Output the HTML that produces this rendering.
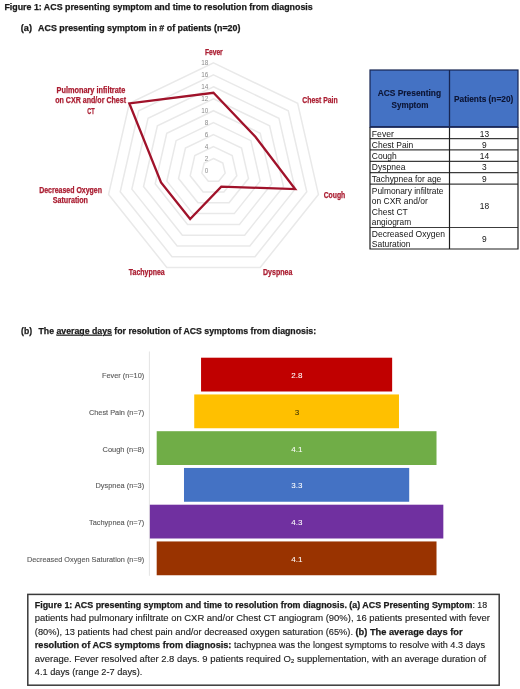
<!DOCTYPE html>
<html><head><meta charset="utf-8"><style>
html,body{margin:0;padding:0;background:#fff;}
body{width:520px;height:689px;overflow:hidden;}
svg{display:block;font-family:"Liberation Sans",sans-serif;filter:blur(0.3px);}
</style></head><body>
<svg width="520" height="689" viewBox="0 0 520 689">
<rect width="520" height="689" fill="#fff"/>
<text x="4.4" y="9.8" font-size="8.7" font-weight="bold" fill="#1a1a1a" stroke="#1a1a1a" stroke-width="0.25" textLength="308.3" lengthAdjust="spacingAndGlyphs">Figure 1: ACS presenting symptom and time to resolution from diagnosis</text>
<text x="20.8" y="31.3" font-size="8.5" font-weight="bold" fill="#1a1a1a" stroke="#1a1a1a" stroke-width="0.25" textLength="11.2" lengthAdjust="spacingAndGlyphs">(a)</text>
<text x="38.1" y="31.3" font-size="8.5" font-weight="bold" fill="#1a1a1a" stroke="#1a1a1a" stroke-width="0.25" textLength="202.3" lengthAdjust="spacingAndGlyphs">ACS presenting symptom in # of patients (n=20)</text>
<g fill="none" stroke="#e9e9e9" stroke-width="1.5"><polygon points="213.50,158.54 222.85,163.04 225.16,173.16 218.69,181.28 208.31,181.28 201.84,173.16 204.15,163.04"/><polygon points="213.50,146.58 232.20,155.59 236.82,175.82 223.88,192.05 203.12,192.05 190.18,175.82 194.80,155.59"/><polygon points="213.50,134.62 241.55,148.13 248.48,178.48 229.07,202.83 197.93,202.83 178.52,178.48 185.45,148.13"/><polygon points="213.50,122.66 250.90,140.67 260.14,181.15 234.26,213.60 192.74,213.60 166.86,181.15 176.10,140.67"/><polygon points="213.50,110.70 260.25,133.22 271.80,183.81 239.45,224.38 187.55,224.38 155.20,183.81 166.75,133.22"/><polygon points="213.50,98.74 269.60,125.76 283.46,186.47 244.64,235.15 182.36,235.15 143.54,186.47 157.40,125.76"/><polygon points="213.50,86.78 278.95,118.30 295.12,189.13 249.82,245.93 177.18,245.93 131.88,189.13 148.05,118.30"/><polygon points="213.50,74.82 288.31,110.84 306.78,191.79 255.01,256.70 171.99,256.70 120.22,191.79 138.69,110.84"/><polygon points="213.50,62.86 297.66,103.39 318.44,194.45 260.20,267.48 166.80,267.48 108.56,194.45 129.34,103.39"/></g>
<polygon points="213.50,92.76 255.58,136.94 295.12,189.13 221.28,186.66 190.15,218.99 161.03,182.48 129.34,103.39" fill="none" stroke="#a0122a" stroke-width="2.3" stroke-linejoin="miter"/>
<text x="208.3" y="172.8" font-size="6.4" fill="#8c8c8c" text-anchor="end">0</text>
<text x="208.3" y="160.8" font-size="6.4" fill="#8c8c8c" text-anchor="end">2</text>
<text x="208.3" y="148.9" font-size="6.4" fill="#8c8c8c" text-anchor="end">4</text>
<text x="208.3" y="136.9" font-size="6.4" fill="#8c8c8c" text-anchor="end">6</text>
<text x="208.3" y="125.0" font-size="6.4" fill="#8c8c8c" text-anchor="end">8</text>
<text x="208.3" y="113.0" font-size="6.4" fill="#8c8c8c" text-anchor="end">10</text>
<text x="208.3" y="101.0" font-size="6.4" fill="#8c8c8c" text-anchor="end">12</text>
<text x="208.3" y="89.1" font-size="6.4" fill="#8c8c8c" text-anchor="end">14</text>
<text x="208.3" y="77.1" font-size="6.4" fill="#8c8c8c" text-anchor="end">16</text>
<text x="208.3" y="65.2" font-size="6.4" fill="#8c8c8c" text-anchor="end">18</text>
<text x="204.9" y="54.9" font-size="8.2" font-weight="bold" fill="#aa1c30" stroke="#aa1c30" stroke-width="0.25" textLength="17.8" lengthAdjust="spacingAndGlyphs">Fever</text>
<text x="302.3" y="103.0" font-size="8.2" font-weight="bold" fill="#aa1c30" stroke="#aa1c30" stroke-width="0.25" textLength="35.4" lengthAdjust="spacingAndGlyphs">Chest Pain</text>
<text x="323.7" y="197.6" font-size="8.2" font-weight="bold" fill="#aa1c30" stroke="#aa1c30" stroke-width="0.25" textLength="21.6" lengthAdjust="spacingAndGlyphs">Cough</text>
<text x="263.0" y="274.6" font-size="8.2" font-weight="bold" fill="#aa1c30" stroke="#aa1c30" stroke-width="0.25" textLength="29.3" lengthAdjust="spacingAndGlyphs">Dyspnea</text>
<text x="128.8" y="274.5" font-size="8.2" font-weight="bold" fill="#aa1c30" stroke="#aa1c30" stroke-width="0.25" textLength="35.9" lengthAdjust="spacingAndGlyphs">Tachypnea</text>
<text x="39.2" y="193.3" font-size="8.2" font-weight="bold" fill="#aa1c30" stroke="#aa1c30" stroke-width="0.25" textLength="62.8" lengthAdjust="spacingAndGlyphs">Decreased Oxygen</text>
<text x="52.7" y="202.9" font-size="8.2" font-weight="bold" fill="#aa1c30" stroke="#aa1c30" stroke-width="0.25" textLength="35.3" lengthAdjust="spacingAndGlyphs">Saturation</text>
<text x="56.6" y="93.0" font-size="8.2" font-weight="bold" fill="#aa1c30" stroke="#aa1c30" stroke-width="0.25" textLength="68.7" lengthAdjust="spacingAndGlyphs">Pulmonary infiltrate</text>
<text x="55.2" y="103.4" font-size="8.2" font-weight="bold" fill="#aa1c30" stroke="#aa1c30" stroke-width="0.25" textLength="70.9" lengthAdjust="spacingAndGlyphs">on CXR and/or Chest</text>
<text x="87.2" y="113.7" font-size="8.2" font-weight="bold" fill="#aa1c30" stroke="#aa1c30" stroke-width="0.25" textLength="7.4" lengthAdjust="spacingAndGlyphs">CT</text>
<rect x="370.0" y="70.0" width="148.0" height="57.0" fill="#4472c4"/>
<line x1="370.0" y1="138.6" x2="518.0" y2="138.6" stroke="#3c3c3c" stroke-width="1.2"/>
<line x1="370.0" y1="149.8" x2="518.0" y2="149.8" stroke="#3c3c3c" stroke-width="1.2"/>
<line x1="370.0" y1="161.3" x2="518.0" y2="161.3" stroke="#3c3c3c" stroke-width="1.2"/>
<line x1="370.0" y1="172.7" x2="518.0" y2="172.7" stroke="#3c3c3c" stroke-width="1.2"/>
<line x1="370.0" y1="184.2" x2="518.0" y2="184.2" stroke="#3c3c3c" stroke-width="1.2"/>
<line x1="370.0" y1="227.5" x2="518.0" y2="227.5" stroke="#3c3c3c" stroke-width="1.2"/>
<line x1="449.5" y1="127.0" x2="449.5" y2="249.0" stroke="#1e1e1e" stroke-width="1.2"/>
<polyline points="370.0,127.0 370.0,249.0 518.0,249.0 518.0,127.0" fill="none" stroke="#1e1e1e" stroke-width="1.2"/>
<line x1="449.5" y1="70.0" x2="449.5" y2="127.0" stroke="#172552" stroke-width="1.3"/>
<rect x="370.0" y="70.0" width="148.0" height="57.0" fill="none" stroke="#172552" stroke-width="1.2"/>
<line x1="370.0" y1="126.8" x2="518.0" y2="126.8" stroke="#1a2a5c" stroke-width="1.8"/>
<text x="377.7" y="96.2" font-size="8.8" font-weight="bold" fill="#0c1433" stroke="#0c1433" stroke-width="0.12" textLength="63.4" lengthAdjust="spacingAndGlyphs">ACS Presenting</text>
<text x="391.5" y="108.0" font-size="8.8" font-weight="bold" fill="#0c1433" stroke="#0c1433" stroke-width="0.12" textLength="37.0" lengthAdjust="spacingAndGlyphs">Symptom</text>
<text x="454.0" y="102.4" font-size="8.8" font-weight="bold" fill="#0c1433" stroke="#0c1433" stroke-width="0.12" textLength="59.3" lengthAdjust="spacingAndGlyphs">Patients (n=20)</text>
<text x="371.8" y="136.5" font-size="8.4" fill="#141414" textLength="22.1" lengthAdjust="spacingAndGlyphs">Fever</text>
<text x="484.4" y="136.5" font-size="8.4" fill="#141414" text-anchor="middle">13</text>
<text x="371.8" y="147.6" font-size="8.4" fill="#141414" textLength="41.5" lengthAdjust="spacingAndGlyphs">Chest Pain</text>
<text x="484.4" y="147.6" font-size="8.4" fill="#141414" text-anchor="middle">9</text>
<text x="371.8" y="159.1" font-size="8.4" fill="#141414" textLength="25.0" lengthAdjust="spacingAndGlyphs">Cough</text>
<text x="484.4" y="159.1" font-size="8.4" fill="#141414" text-anchor="middle">14</text>
<text x="371.8" y="170.4" font-size="8.4" fill="#141414" textLength="33.6" lengthAdjust="spacingAndGlyphs">Dyspnea</text>
<text x="484.4" y="170.4" font-size="8.4" fill="#141414" text-anchor="middle">3</text>
<text x="371.8" y="182.0" font-size="8.4" fill="#141414" textLength="69.5" lengthAdjust="spacingAndGlyphs">Tachypnea for age</text>
<text x="484.4" y="182.0" font-size="8.4" fill="#141414" text-anchor="middle">9</text>
<text x="371.8" y="193.5" font-size="8.4" fill="#141414" textLength="71.7" lengthAdjust="spacingAndGlyphs">Pulmonary infiltrate</text>
<text x="371.8" y="204.0" font-size="8.4" fill="#141414" textLength="56.0" lengthAdjust="spacingAndGlyphs">on CXR and/or</text>
<text x="371.8" y="214.6" font-size="8.4" fill="#141414" textLength="36.0" lengthAdjust="spacingAndGlyphs">Chest CT</text>
<text x="371.8" y="225.1" font-size="8.4" fill="#141414" textLength="39.3" lengthAdjust="spacingAndGlyphs">angiogram</text>
<text x="484.4" y="209.0" font-size="8.4" fill="#141414" text-anchor="middle">18</text>
<text x="371.8" y="236.5" font-size="8.4" fill="#141414" textLength="73.2" lengthAdjust="spacingAndGlyphs">Decreased Oxygen</text>
<text x="371.8" y="247.2" font-size="8.4" fill="#141414" textLength="38.7" lengthAdjust="spacingAndGlyphs">Saturation</text>
<text x="484.4" y="241.8" font-size="8.4" fill="#141414" text-anchor="middle">9</text>
<text x="21.1" y="333.8" font-size="9.0" font-weight="bold" fill="#1a1a1a" stroke="#1a1a1a" stroke-width="0.25" textLength="11.0" lengthAdjust="spacingAndGlyphs">(b)</text>
<text x="38.5" y="333.8" font-size="9.0" font-weight="bold" fill="#1a1a1a" stroke="#1a1a1a" stroke-width="0.25" textLength="277.6" lengthAdjust="spacingAndGlyphs">The <tspan text-decoration="underline">average days</tspan> for resolution of ACS symptoms from diagnosis:</text>
<line x1="149.4" y1="351.5" x2="149.4" y2="575.8" stroke="#e3e3e3" stroke-width="1"/>
<rect x="201.05" y="357.70" width="191.10" height="33.8" fill="#c00000"/>
<text x="101.9" y="378.2" font-size="7.6" fill="#595959" stroke="#595959" stroke-width="0.12" textLength="42.3" lengthAdjust="spacingAndGlyphs">Fever (n=10)</text>
<text x="296.9" y="378.0" font-size="8.0" fill="#ffffff" stroke="#ffffff" stroke-width="0.05" text-anchor="middle">2.8</text>
<rect x="194.23" y="394.45" width="204.75" height="33.8" fill="#ffc000"/>
<text x="89.0" y="414.9" font-size="7.6" fill="#595959" stroke="#595959" stroke-width="0.12" textLength="55.2" lengthAdjust="spacingAndGlyphs">Chest Pain (n=7)</text>
<text x="296.9" y="414.7" font-size="8.0" fill="#3a3000" stroke="#3a3000" stroke-width="0.05" text-anchor="middle">3</text>
<rect x="156.69" y="431.20" width="279.82" height="33.8" fill="#70ad47"/>
<text x="102.5" y="451.7" font-size="7.6" fill="#595959" stroke="#595959" stroke-width="0.12" textLength="41.7" lengthAdjust="spacingAndGlyphs">Cough (n=8)</text>
<text x="296.9" y="451.5" font-size="8.0" fill="#ffffff" stroke="#ffffff" stroke-width="0.05" text-anchor="middle">4.1</text>
<rect x="183.99" y="467.95" width="225.22" height="33.8" fill="#4472c4"/>
<text x="95.5" y="488.4" font-size="7.6" fill="#595959" stroke="#595959" stroke-width="0.12" textLength="48.7" lengthAdjust="spacingAndGlyphs">Dyspnea (n=3)</text>
<text x="296.9" y="488.2" font-size="8.0" fill="#ffffff" stroke="#ffffff" stroke-width="0.05" text-anchor="middle">3.3</text>
<rect x="149.86" y="504.70" width="293.47" height="33.8" fill="#7030a0"/>
<text x="89.0" y="525.2" font-size="7.6" fill="#595959" stroke="#595959" stroke-width="0.12" textLength="55.2" lengthAdjust="spacingAndGlyphs">Tachypnea (n=7)</text>
<text x="296.9" y="525.0" font-size="8.0" fill="#ffffff" stroke="#ffffff" stroke-width="0.05" text-anchor="middle">4.3</text>
<rect x="156.69" y="541.45" width="279.82" height="33.8" fill="#993300"/>
<text x="27.0" y="562.0" font-size="7.6" fill="#595959" stroke="#595959" stroke-width="0.12" textLength="117.2" lengthAdjust="spacingAndGlyphs">Decreased Oxygen Saturation (n=9)</text>
<text x="296.9" y="561.8" font-size="8.0" fill="#ffffff" stroke="#ffffff" stroke-width="0.05" text-anchor="middle">4.1</text>
<rect x="27.8" y="594.4" width="471.4" height="90.8" fill="none" stroke="#3a3a3a" stroke-width="1.5"/>
<text x="34.8" y="608.0" font-size="8.9" fill="#1a1a1a" stroke="#1a1a1a" stroke-width="0.12" textLength="452.4" lengthAdjust="spacingAndGlyphs"><tspan font-weight="bold" stroke-width="0.25">Figure 1: ACS presenting symptom and time to resolution from diagnosis. (a) ACS Presenting Symptom</tspan>: 18</text>
<text x="34.8" y="621.4" font-size="8.9" fill="#1a1a1a" stroke="#1a1a1a" stroke-width="0.12" textLength="455.1" lengthAdjust="spacingAndGlyphs">patients had pulmonary infiltrate on CXR and/or Chest CT angiogram (90%), 16 patients presented with fever</text>
<text x="34.8" y="634.8" font-size="8.9" fill="#1a1a1a" stroke="#1a1a1a" stroke-width="0.12" textLength="427.8" lengthAdjust="spacingAndGlyphs">(80%), 13 patients had chest pain and/or decreased oxygen saturation (65%). <tspan font-weight="bold" stroke-width="0.25">(b) The average days for</tspan></text>
<text x="34.8" y="648.3" font-size="8.9" fill="#1a1a1a" stroke="#1a1a1a" stroke-width="0.12" textLength="450.2" lengthAdjust="spacingAndGlyphs"><tspan font-weight="bold" stroke-width="0.25">resolution of ACS symptoms from diagnosis:</tspan> tachypnea was the longest symptoms to resolve with 4.3 days</text>
<text x="34.8" y="661.7" font-size="8.9" fill="#1a1a1a" stroke="#1a1a1a" stroke-width="0.12" textLength="451.4" lengthAdjust="spacingAndGlyphs">average. Fever resolved after 2.8 days. 9 patients required O₂ supplementation, with an average duration of</text>
<text x="34.8" y="675.1" font-size="8.9" fill="#1a1a1a" stroke="#1a1a1a" stroke-width="0.12" textLength="107.5" lengthAdjust="spacingAndGlyphs">4.1 days (range 2-7 days).</text>
</svg>
</body></html>
